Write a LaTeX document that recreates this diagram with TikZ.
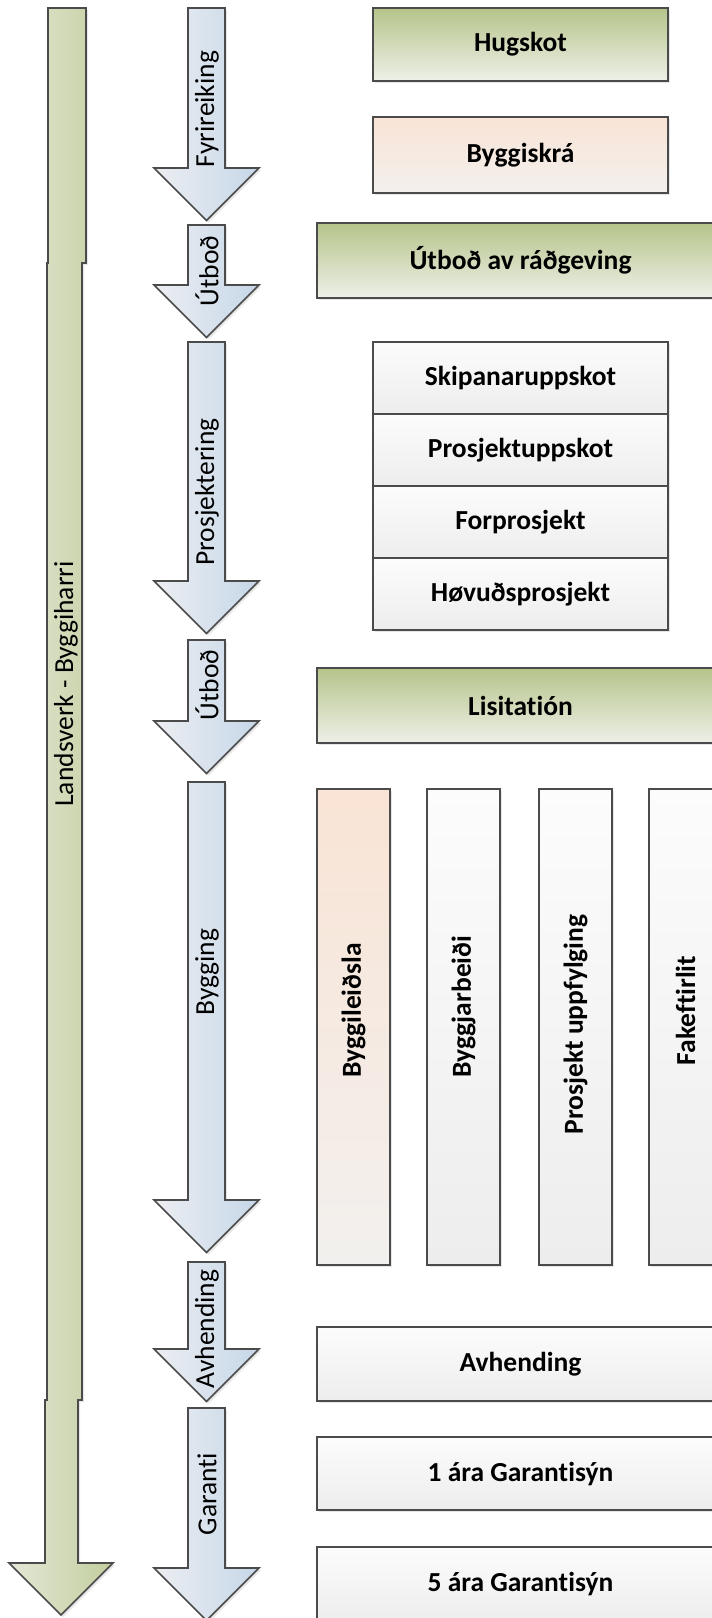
\documentclass[tikz,border=0pt]{standalone}
\usepackage{fontspec}
\setmainfont{Carlito}[Ligatures=NoCommon]
\usepackage{tikz}
\usetikzlibrary{positioning}
\usetikzlibrary{shadows}

\definecolor{boxgreen}{RGB}{181,196,138}
\definecolor{boxgreenlow}{RGB}{238,240,232}
\definecolor{boxpeach}{RGB}{249,228,213}
\definecolor{boxpeachlow}{RGB}{242,240,238}
\definecolor{boxgrey}{RGB}{252,252,252}
\definecolor{boxgreylow}{RGB}{237,237,237}
\definecolor{phaseleft}{RGB}{236,238,242}
\definecolor{phaseright}{RGB}{198,215,232}
\definecolor{mainleft}{RGB}{228,232,214}
\definecolor{mainright}{RGB}{194,206,158}
\definecolor{edgegrey}{RGB}{75,75,75}

\tikzset{
  stage/.style={draw=edgegrey, line width=1pt, inner sep=0pt, font=\bfseries,
    drop shadow={shadow xshift=1.2pt, shadow yshift=-1.2pt, opacity=0.2}},
  greenstage/.style={stage, top color=boxgreen, bottom color=boxgreenlow},
  peachstage/.style={stage, top color=boxpeach, bottom color=boxpeachlow},
  greystage/.style={stage, top color=boxgrey, bottom color=boxgreylow},
  narrow/.style={minimum width=147.5pt},
  wide/.style={minimum width=203.5pt},
  colbox/.style={minimum width=36.5pt, minimum height=238pt},
  coltext/.style={rotate=90, font=\bfseries},
  phase/.style={draw=edgegrey, line width=0.8pt, left color=phaseleft, right color=phaseright,
    drop shadow={shadow xshift=1pt, shadow yshift=-1pt, opacity=0.2}},
  mainphase/.style={draw=edgegrey, line width=0.8pt, left color=mainleft, right color=mainright,
    drop shadow={shadow xshift=1pt, shadow yshift=-1pt, opacity=0.2}},
  phasetext/.style={rotate=90, inner sep=0pt},
}

\begin{document}
\fontsize{13.75}{16}\selectfont
\begin{tikzpicture}[x=0.5pt, y=-0.5pt]

    \useasboundingbox (0,0) rectangle (712,1618);
    \clip (0,0) rectangle (712,1618);

    % Main arrow
    \draw[mainphase] (48,8) -- (48,263) -- (47,263) -- (47,1400) -- (45,1400) -- (45,1563) -- (9,1563)
      -- (61,1615) -- (113,1563) -- (78,1563) -- (78,1400) -- (82,1400) -- (82,263) -- (86,263) -- (86,8) -- cycle;
    \node[phasetext] (landsverk) at (66,684) {Landsverk - Byggiharri};

    % Phase arrows
    \draw[phase] (188,8) -- (188,168) -- (154,168) -- (206.5,220.5) -- (259,168) -- (225,168) -- (225,8) -- cycle;
    \node[phasetext] (fyrireiking) at (207,109) {Fyrireiking};
    \draw[phase] (188,225) -- (188,285) -- (154,285) -- (206.5,337.5) -- (259,285) -- (225,285) -- (225,225) -- cycle;
    \node[phasetext] (utbodA) at (207,271) {Útboð};
    \draw[phase] (188,342) -- (188,581) -- (154,581) -- (206.5,633.5) -- (259,581) -- (225,581) -- (225,342) -- cycle;
    \node[phasetext] (prosjektering) at (207,492) {Prosjektering};
    \draw[phase] (188,640) -- (188,721) -- (154,721) -- (206.5,773.5) -- (259,721) -- (225,721) -- (225,640) -- cycle;
    \node[phasetext] (utbodB) at (207,685) {Útboð};
    \draw[phase] (188,782) -- (188,1200) -- (154,1200) -- (206.5,1252.5) -- (259,1200) -- (225,1200) -- (225,782) -- cycle;
    \node[phasetext] (bygging) at (207,972) {Bygging};
    \draw[phase] (188,1262) -- (188,1349) -- (154,1349) -- (206.5,1401.5) -- (259,1349) -- (225,1349) -- (225,1262) -- cycle;
    \node[phasetext] (avhendingarrow) at (207,1329) {Avhending};
    \draw[phase] (188,1408) -- (188,1568) -- (154,1568) -- (206.5,1620.5) -- (259,1568) -- (225,1568) -- (225,1408) -- cycle;
    \node[phasetext] (garanti) at (207,1494) {Garanti};

    % Stages
    \node[greenstage, narrow, minimum height=36.5pt] (hugskot) at (520.5,44.5) {Hugskot};
    \node[peachstage, narrow, minimum height=38pt] (byggiskra) at (520.5,155) {Byggiskrá};
    \node[greenstage, wide, minimum height=37.5pt] (radgeving) at (520.5,260.5) {Útboð av ráðgeving};

    \node[greystage, narrow, minimum height=36pt] (skipan) at (520.5,378) {Skipanaruppskot};
    \node[greystage, narrow, minimum height=36pt, below=-1pt of skipan] (uppskot) {Prosjektuppskot};
    \node[greystage, narrow, minimum height=36pt, below=-1pt of uppskot] (forprosjekt) {Forprosjekt};
    \node[greystage, narrow, minimum height=36pt, below=-1pt of forprosjekt] (hovud) {Høvuðsprosjekt};

    \node[greenstage, wide, minimum height=37.5pt] (lisitation) at (520.5,705.5) {Lisitatión};

    % Building columns
    \node[peachstage, colbox] (leidsla) at (353.5,1026.5) {};
    \node[greystage, colbox, right=17.5pt of leidsla] (arbeidi) {};
    \node[greystage, colbox, right=18.5pt of arbeidi] (uppfylging) {};
    \node[greystage, colbox, right=17.5pt of uppfylging] (eftirlit) {};
    \node[coltext] (leidslatext) at ([yshift=8pt]leidsla.center) {Byggileiðsla};
    \node[coltext] (arbeiditext) at ([yshift=10pt]arbeidi.center) {Byggjarbeiði};
    \node[coltext] (uppfylgingtext) at ([yshift=1pt]uppfylging.center) {Prosjekt uppfylging};
    \node[coltext] (eftirlittext) at ([yshift=8pt]eftirlit.center) {Fakeftirlit};

    % Handover and guarantee
    \node[greystage, wide, minimum height=37pt] (avhending) at (520.5,1364) {Avhending};
    \node[greystage, wide, minimum height=36.5pt] (garantiA) at (520.5,1473.5) {1 ára Garantisýn};
    \node[greystage, wide, minimum height=37pt] (garantiB) at (520.5,1584) {5 ára Garantisýn};

\end{tikzpicture}
\end{document}
